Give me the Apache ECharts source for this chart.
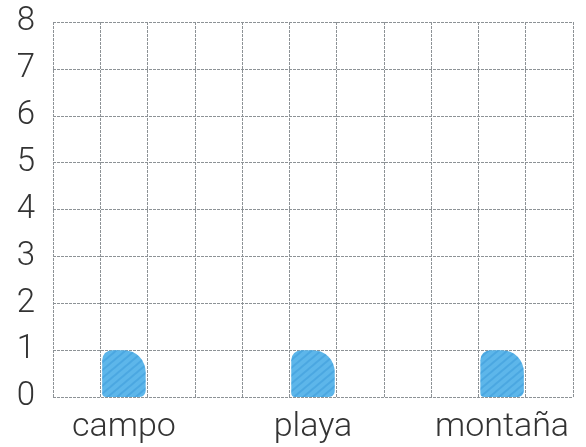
<!DOCTYPE html>
<html>
<head>
<meta charset="utf-8">
<script src="https://cdn.jsdelivr.net/npm/echarts@6/dist/echarts.min.js"></script>
<style>
html,body{margin:0;padding:0;background:#fff;}
#chart{width:586px;height:447px;}
</style>
</head>
<body>
<div id="chart"></div>
<script>
const categories = ['', 'campo', '', '', '', 'playa', '', '', '', 'montaña', ''];
const values = [null, 1, null, null, null, 1, null, null, null, 1, null];
const yTicks = [0, 8, 1]; // min, max, interval

const chart = echarts.init(document.getElementById('chart'));
const gridLine = { show: true, lineStyle: { color: '#8d9296', width: 1, type: [3, 1] } };
chart.setOption({
  animation: false,
  backgroundColor: '#ffffff',
  grid: { left: 53, right: 13, top: 22, bottom: 50 },
  xAxis: {
    type: 'category',
    data: categories,
    boundaryGap: true,
    axisLine: { show: false },
    axisTick: { show: false },
    splitLine: Object.assign({ interval: 0 }, gridLine),
    axisLabel: {
      interval: 0,
      fontFamily: 'Roboto',
      fontWeight: 300,
      fontSize: 34,
      color: '#333',
      margin: 13
    }
  },
  yAxis: {
    type: 'value',
    min: yTicks[0],
    max: yTicks[1],
    interval: yTicks[2],
    axisLine: { show: false },
    axisTick: { show: false },
    splitLine: gridLine,
    axisLabel: {
      fontFamily: 'Roboto',
      fontWeight: 300,
      fontSize: 33,
      color: '#333',
      margin: 18
    }
  },
  series: [{
    type: 'bar',
    data: values,
    barWidth: '92%',
    itemStyle: {
      color: '#5db6ea',
      borderRadius: [10, 22, 6, 4],
      decal: {
        symbol: 'rect',
        color: 'rgba(40,140,210,0.35)',
        dashArrayX: [1, 0],
        dashArrayY: [2, 4],
        rotation: -0.7
      }
    }
  }]
});
</script>
</body>
</html>
